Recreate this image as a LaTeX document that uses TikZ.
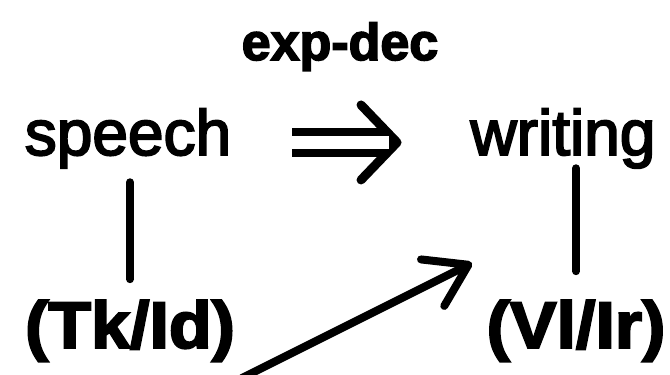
\documentclass[tikz,border=0pt]{standalone}
\usepackage{fontspec}
\setmainfont{Liberation Sans}
\newfontfamily\wordfont{Liberation Sans}[FakeBold=3]
\newfontfamily\tagfont{Liberation Sans Bold}[FakeBold=3]
\usetikzlibrary{arrows.meta}

\begin{document}
\begin{tikzpicture}[x=1pt, y=-1pt, line width=8pt, line cap=round,
    word/.style={inner sep=0pt, anchor=base, font=\fontsize{64}{70}\wordfont},
    tag/.style={inner sep=0pt, anchor=base, xscale=1.06, font=\fontsize{66}{72}\tagfont},
    dbl/.style={double, double distance=13pt, line cap=butt, shorten <=57pt, shorten >=78pt},
    chevron/.style={line width=9pt, -{Straight Barb[length=36pt, width=75pt, round]}, shorten <=72pt, shorten >=65pt}]
    \useasboundingbox (0,0) rectangle (670,375);
    \node[inner sep=0pt, anchor=base, font=\fontsize{52}{58}\tagfont] (expdec) at (340,60) {exp-dec};
    \node[word] (speech) at (128,155) {speech};
    \node[word] (writing) at (563,155) {writing};
    \node[tag] (tkid) at (130,348) {(Tk/Id)};
    \node[tag] (vlir) at (576,348) {(Vl/Ir)};
    \coordinate (tail) at (242,378);
    \coordinate (head) at (472,263);
    \draw[chevron] ([yshift=-4pt]speech.east) -- ([yshift=-4pt]writing.west);
    \draw[dbl] ([yshift=-4pt]speech.east) -- ([yshift=-4pt]writing.west);
    \draw[shorten <=10pt, shorten >=17pt] (tkid.north |- speech.south) -- (tkid.north);
    \draw[shorten <=-4pt, shorten >=25pt] (vlir.north |- writing.south) -- (vlir.north);
    \draw[-{Straight Barb[length=40pt, width=52pt, round]}] (tail) -- (head);
\end{tikzpicture}
\end{document}
